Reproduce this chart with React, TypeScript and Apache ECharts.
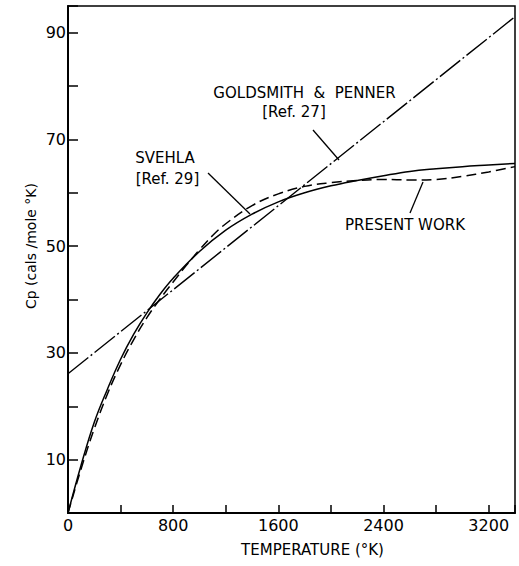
import React, { useEffect, useRef } from "react";
import * as echarts from "echarts";

const FONT = '"DejaVu Sans", "Liberation Sans", sans-serif';

// Temperature (°K) and Cp (cals/mole °K)
const svehlaT = [0, 100, 200, 300, 400, 500, 600, 700, 800, 1000, 1200, 1400, 1600, 1800, 2000, 2200, 2400, 2600, 2800, 3000, 3200, 3400];
const svehlaCp = [0, 9, 17, 23.2, 28.8, 33.5, 37.5, 41, 44, 49, 53, 56, 58.3, 60, 61.3, 62.3, 63.2, 64, 64.5, 64.9, 65.2, 65.5];

const presentT = [0, 100, 200, 300, 400, 500, 600, 700, 800, 900, 1000, 1100, 1200, 1400, 1600, 1800, 2000, 2200, 2400, 2600, 2800, 3000, 3200, 3400];
const presentCp = [0, 8.3, 15.8, 22.3, 27.8, 32.5, 36.6, 40.1, 43.3, 46.4, 49.3, 52, 54.2, 57.6, 59.8, 61.2, 61.9, 62.3, 62.5, 62.4, 62.5, 63.1, 63.9, 64.9];

const goldsmithT = [0, 3400];
const goldsmithCp = [26.1, 93];

const xLabelValues = [0, 800, 1600, 2400, 3200];
const yLabelValues = [10, 30, 50, 70, 90];

const zip = (xs: number[], ys: number[]) => xs.map((x, i) => [x, ys[i]]);

const txt = (text: string, x: number, y: number, extra: any = {}) => ({
  type: "text",
  x,
  y,
  silent: true,
  ...extra,
  style: {
    text,
    fill: "#000",
    font: `15px ${FONT}`,
    align: "center",
    verticalAlign: "middle",
    textAlign: "center",
    textVerticalAlign: "middle",
    ...(extra.style || {}),
  },
});

const leader = (x1: number, y1: number, x2: number, y2: number) => ({
  type: "line",
  silent: true,
  shape: { x1, y1, x2, y2 },
  style: { stroke: "#000", lineWidth: 1.3 },
});

export default function App() {
  const ref = useRef<HTMLDivElement>(null);
  useEffect(() => {
    const chart = echarts.init(ref.current!, null, { renderer: "svg" });
    chart.setOption({
      animation: false,
      backgroundColor: "#fff",
      grid: {
        left: 68,
        top: 6,
        right: 4,
        bottom: 53,
        show: true,
        borderColor: "#000",
        borderWidth: 1.5,
        containLabel: false,
        outerBoundsMode: "none",
      },
      xAxis: {
        type: "value",
        min: 0,
        max: 3400,
        interval: 400,
        axisLine: { show: true, lineStyle: { color: "#000", width: 2 } },
        axisTick: { show: true, inside: true, length: 8, lineStyle: { color: "#000", width: 1.5 } },
        axisLabel: {
          formatter: (v: number) => (xLabelValues.includes(v) ? String(v) : ""),
          color: "#000",
          fontFamily: FONT,
          fontSize: 16,
          margin: 4,
        },
        splitLine: { show: false },
      },
      yAxis: {
        type: "value",
        min: 0,
        max: 95,
        interval: 10,
        axisLine: { show: true, lineStyle: { color: "#000", width: 2 } },
        axisTick: { show: true, inside: true, length: 10, lineStyle: { color: "#000", width: 1.5 } },
        axisLabel: {
          formatter: (v: number) => (yLabelValues.includes(v) ? String(v) : ""),
          color: "#000",
          fontFamily: FONT,
          fontSize: 16,
          margin: 2,
        },
        splitLine: { show: false },
      },
      series: [
        {
          name: "GOLDSMITH & PENNER",
          type: "line",
          data: zip(goldsmithT, goldsmithCp),
          showSymbol: false,
          silent: true,
          lineStyle: { color: "#000", width: 1.4, type: [26, 3, 2, 3] },
        },
        {
          name: "SVEHLA",
          type: "line",
          data: zip(svehlaT, svehlaCp),
          smooth: 0.4,
          showSymbol: false,
          silent: true,
          lineStyle: { color: "#000", width: 1.5, type: "solid" },
        },
        {
          name: "PRESENT WORK",
          type: "line",
          data: zip(presentT, presentCp),
          smooth: 0.4,
          showSymbol: false,
          silent: true,
          lineStyle: { color: "#000", width: 1.5, type: [10, 5] },
        },
      ],
      graphic: [
        txt("GOLDSMITH  &  PENNER", 304.5, 92.5),
        txt("[Ref. 27]", 294, 112),
        leader(313, 130, 339, 160),
        txt("SVEHLA", 165, 158),
        txt("[Ref. 29]", 167.5, 179),
        leader(208, 173, 250, 214),
        txt("PRESENT WORK", 405, 225),
        leader(423, 182, 410, 213),
        txt("TEMPERATURE (°K)", 312.5, 550),
        txt("Cp (cals /mole °K)", 31, 246, { rotation: Math.PI / 2, style: { font: `14px ${FONT}` } }),
      ],
    });
    return () => chart.dispose();
  }, []);
  return (
    <div
      ref={ref}
      style={{ position: "fixed", left: 0, top: 0, width: 519, height: 566, background: "#fff" }}
    />
  );
}
